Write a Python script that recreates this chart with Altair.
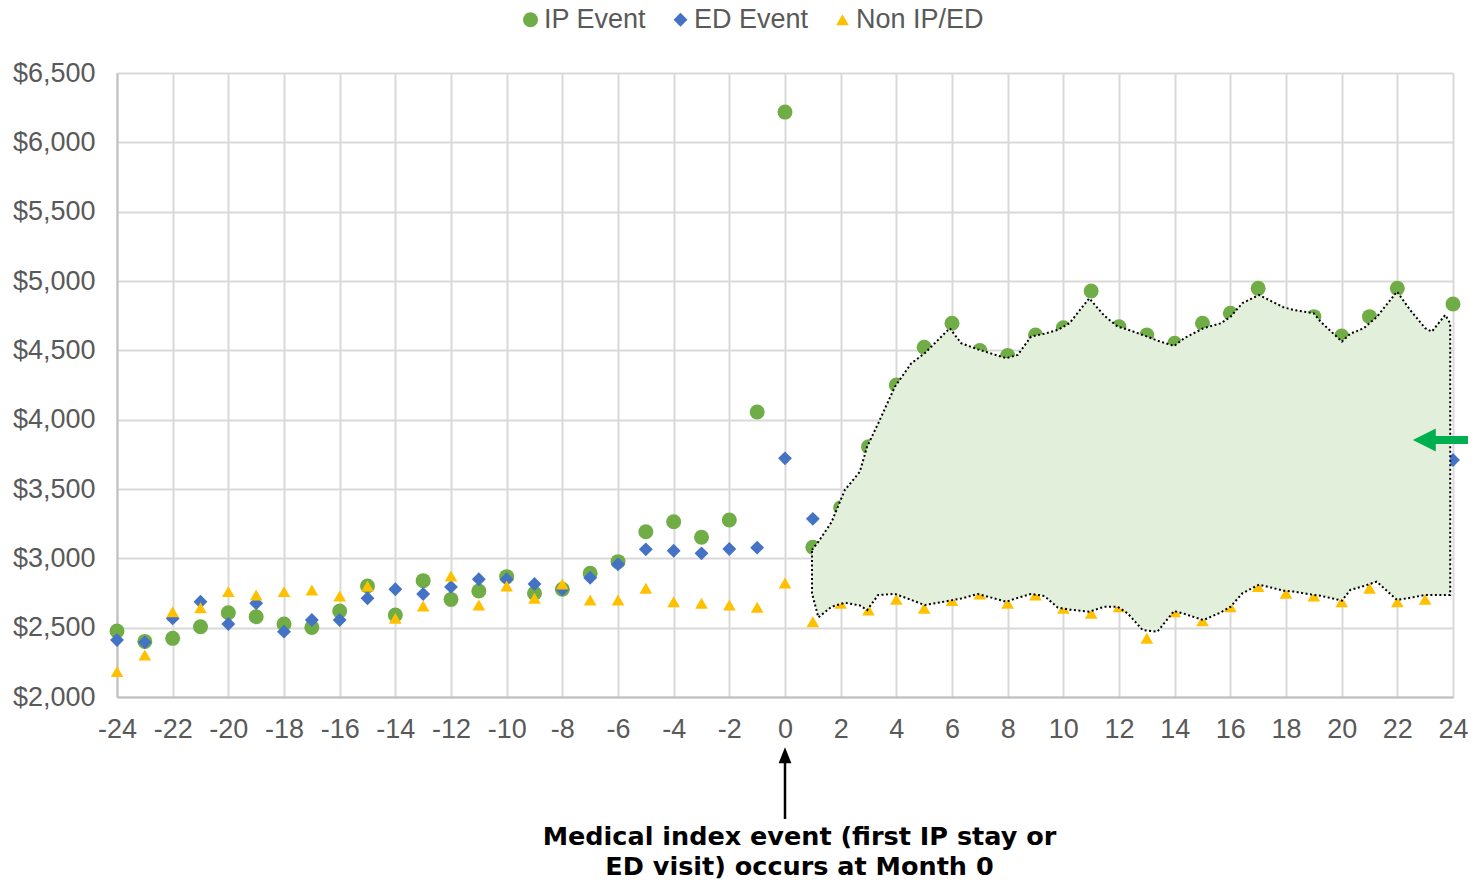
import altair as alt
import pandas as pd

# ---------------- data ----------------
months = list(range(-24, 25))
series_names = ["IP Event", "ED Event", "Non IP/ED"]
series_colors = ["#70AD47", "#4472C4", "#FFC000"]
series_shapes = ["circle", "diamond", "triangle-up"]
series_sizes = [225, 160, 196]

ip_event = [2476, 2401, 2423, 2507, 2608, 2579, 2526, 2502, 2620, 2800, 2591, 2839,
            2704, 2764, 2868, 2748, 2777, 2892, 2976, 3192, 3264, 3152, 3276, 4055,
            6218, 3080, 3365, 3805, 4250, 4522, 4695, 4498, 4462, 4611, 4663, 4928,
            4670, 4611, 4551, 4695, 4767, 4947, None, 4743, 4603, 4743, 4947, None,
            4834]
ed_event = [2411, 2394, 2567, 2687, 2526, 2676, 2471, 2555, 2555, 2712, 2777, 2743,
            2794, 2849, 2849, 2815, 2777, 2860, 2957, 3065, 3055, 3036, 3067, 3077,
            3721, 3285, None, None, None, None, None, None, None, None, None, None,
            None, None, None, None, None, None, None, None, None, None, None, None,
            3709]
non_ip_ed = [2183, 2303, 2615, 2644, 2760, 2736, 2760, 2772, 2728, 2800, 2567, 2656,
             2873, 2663, 2800, 2712, 2815, 2700, 2700, 2784, 2687, 2676, 2663, 2647,
             2822, 2543, 2676, 2627, 2704, 2640, 2695, 2743, 2676, 2736, 2640, 2604,
             2651, 2423, 2615, 2550, 2651, 2796, 2748, 2728, 2687, 2784, 2687, 2704,
             None]

# shaded (redacted) region outline
shade_x = [0.97, 1.2, 1.67, 2.15, 2.69, 2.95, 3.35, 3.95, 4.54, 5.02, 5.92, 6.33,
           6.93, 7.95, 8.36, 8.84, 9.32, 9.80, 10.22, 10.93, 11.47, 11.95, 12.31,
           12.85, 13.38, 13.98, 14.34, 15.03, 15.66, 16.01, 16.43, 17.03, 17.92,
           18.28, 19.0, 19.24, 20.01, 20.31, 20.79, 21.26, 21.99, 22.46, 23.0,
           23.24, 23.72, 23.9]
shade_upper = [3060, 3120, 3260, 3493, 3625, 3805, 3974, 4238, 4407, 4479, 4659, 4551,
               4507, 4443, 4467, 4599, 4620, 4647, 4695, 4875, 4750, 4671, 4650,
               4611, 4570, 4531, 4587, 4659, 4695, 4743, 4840, 4899, 4810,
               4791, 4767, 4707, 4563, 4620, 4659, 4740, 4923, 4791, 4660,
               4635, 4755, 4695]
shade_lower = [2748, 2574, 2651, 2680, 2660, 2627, 2736, 2743, 2700, 2663, 2695, 2710,
               2743, 2687, 2715, 2743, 2728, 2645, 2630, 2615, 2651, 2651, 2603,
               2483, 2471, 2620, 2600, 2555, 2610, 2651, 2748, 2810, 2767,
               2760, 2736, 2730, 2695, 2772, 2800, 2832, 2700, 2715, 2736,
               2736, 2736, 2736]

# annotations
note_lines = ["Medical index event (first IP stay or", "ED visit) occurs at Month 0"]
note_x = [0.52, 0.52]
note_y = [990, 774]
black_arrow_x = [0]
black_arrow_y = [1120]
black_arrow_y2 = [1560]
black_head_y = [1580]
green_arrow_y = [3853]
green_shaft_x = [23.25]
green_shaft_x2 = [24.6]
green_head_x = [22.97]

# ---------------- build ----------------
rows = []
for name, vals in zip(series_names, [ip_event, ed_event, non_ip_ed]):
    for m, v in zip(months, vals):
        if v is not None:
            rows.append({"month": m, "value": v, "series": name})
points_df = pd.DataFrame(rows)
shade_df = pd.DataFrame({"month": shade_x, "value": shade_upper, "value2": shade_lower})

FONT = "Liberation Sans"
LABEL_COLOR = "#595959"

x_scale = alt.Scale(domain=[-24, 24], nice=False, zero=False)
y_scale = alt.Scale(domain=[2000, 6500], nice=False, zero=False)
x_axis = alt.Axis(values=list(range(-24, 25, 2)), title=None, labelFlush=False,
                  labelOverlap=False, labelPadding=19, grid=True,
                  labelExpr="toString(datum.value)")
y_axis = alt.Axis(values=list(range(2000, 6501, 500)), format="$,.0f", title=None,
                  labelPadding=22, grid=True, labelOverlap=False)

legend = alt.Legend(orient="none", legendX=400, legendY=-67, direction="horizontal",
                    title=None, labelFont=FONT, labelFontSize=27, labelColor=LABEL_COLOR,
                    symbolSize=180, labelOffset=0, columnPadding=20, padding=0,
                    symbolStrokeWidth=0)

points = alt.Chart(points_df).mark_point(filled=True, opacity=1).encode(
    x=alt.X("month:Q", scale=x_scale, axis=x_axis),
    y=alt.Y("value:Q", scale=y_scale, axis=y_axis),
    color=alt.Color("series:N", scale=alt.Scale(domain=series_names, range=series_colors),
                    legend=legend),
    shape=alt.Shape("series:N", scale=alt.Scale(domain=series_names, range=series_shapes),
                    legend=legend),
    size=alt.Size("series:N", scale=alt.Scale(domain=series_names, range=series_sizes),
                  legend=None),
)

shade = alt.Chart(shade_df).mark_area(
    fill="#E2EFDA", fillOpacity=1, stroke="black", strokeWidth=2, strokeDash=[2, 2.5]
).encode(
    x=alt.X("month:Q", scale=x_scale, axis=x_axis),
    y=alt.Y("value:Q", scale=y_scale, axis=y_axis),
    y2="value2:Q",
)

note_df = pd.DataFrame({"month": note_x, "value": note_y, "text": note_lines})
note = alt.Chart(note_df).mark_text(
    font="DejaVu Sans", fontWeight="bold", fontSize=25.5, color="black", align="center",
    baseline="middle"
).encode(
    x=alt.X("month:Q", scale=x_scale, axis=x_axis),
    y=alt.Y("value:Q", scale=y_scale, axis=y_axis),
    text="text:N",
)

barrow_df = pd.DataFrame({"month": black_arrow_x, "value": black_arrow_y,
                          "value2": black_arrow_y2})
black_shaft = alt.Chart(barrow_df).mark_rule(color="black", strokeWidth=2.5).encode(
    x=alt.X("month:Q", scale=x_scale, axis=x_axis),
    y=alt.Y("value:Q", scale=y_scale, axis=y_axis),
    y2="value2:Q",
)
bhead_df = pd.DataFrame({"month": black_arrow_x, "value": black_head_y})
black_head = alt.Chart(bhead_df).mark_point(
    filled=True, opacity=1, color="black", shape="M0,-1L0.8,1L-0.8,1Z", size=256
).encode(
    x=alt.X("month:Q", scale=x_scale, axis=x_axis),
    y=alt.Y("value:Q", scale=y_scale, axis=y_axis),
)

gshaft_df = pd.DataFrame({"month": green_shaft_x, "month2": green_shaft_x2,
                          "value": green_arrow_y})
green_shaft = alt.Chart(gshaft_df).mark_rule(color="#00B050", strokeWidth=8).encode(
    x=alt.X("month:Q", scale=x_scale, axis=x_axis),
    x2="month2:Q",
    y=alt.Y("value:Q", scale=y_scale, axis=y_axis),
)
ghead_df = pd.DataFrame({"month": green_head_x, "value": green_arrow_y})
green_head = alt.Chart(ghead_df).mark_point(
    filled=True, opacity=1, color="#00B050", shape="M-1,0L1,-1L1,1Z", size=530
).encode(
    x=alt.X("month:Q", scale=x_scale, axis=x_axis),
    y=alt.Y("value:Q", scale=y_scale, axis=y_axis),
)

chart = alt.layer(points, shade, green_shaft, green_head, black_shaft, black_head, note).properties(
    width=1336, height=624,
    autosize=alt.AutoSizeParams(type="none"),
    padding={"left": 109, "top": 65, "right": 15, "bottom": 184},
).configure_view(stroke=None).configure_axis(
    domainColor="#BFBFBF", domainWidth=2, gridColor="#D9D9D9", gridWidth=2,
    tickSize=0, labelFont=FONT, labelFontSize=27, labelColor=LABEL_COLOR,
)

chart.save("out.html", embed_options={"renderer": "svg", "actions": False})
